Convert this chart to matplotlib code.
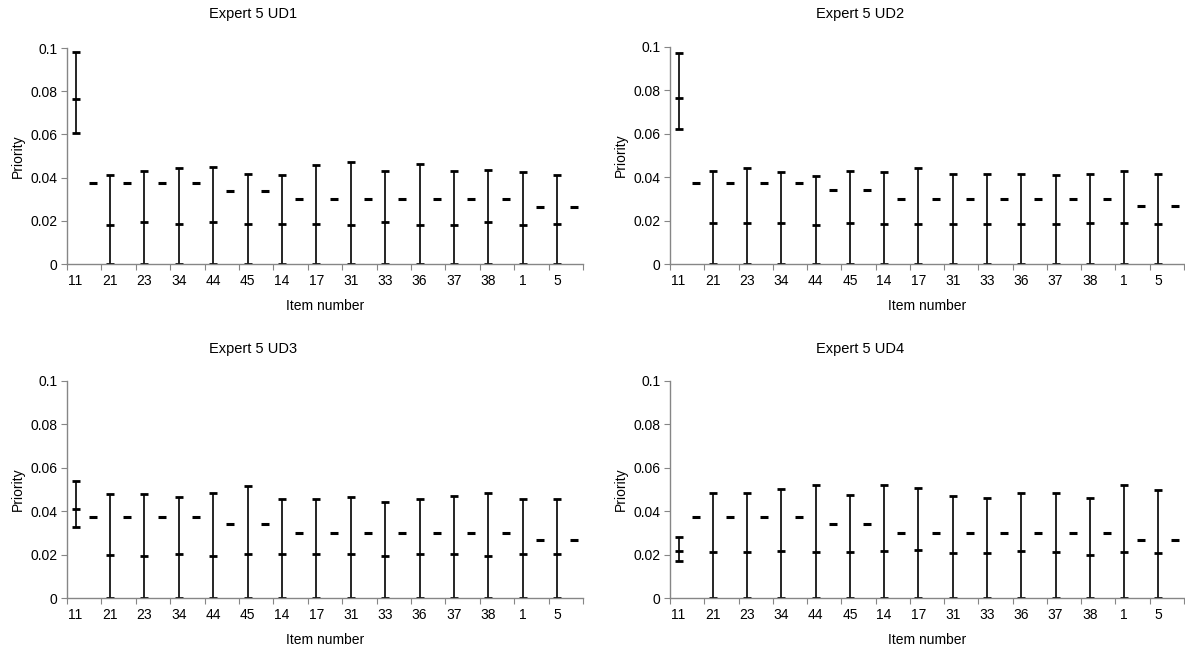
import matplotlib
matplotlib.use("Agg")
import matplotlib.pyplot as plt
import numpy as np

plt.rcParams['font.family'] = ['Liberation Sans', 'DejaVu Sans']

items = ['11', '21', '23', '34', '44', '45', '14', '17', '31', '33', '36', '37', '38', '1', '5']

# reference value drawn as a single dash next to every item
ref_vals = [0.0375, 0.0375, 0.0375, 0.0375, 0.034, 0.034,
            0.030, 0.030, 0.030, 0.030, 0.030, 0.030, 0.030, 0.0265, 0.0265]

# interval per expert / decision (high, mid, low)
ud1_high = [0.0983, 0.0414, 0.0431, 0.0446, 0.0451, 0.0417, 0.0414, 0.0457, 0.0471, 0.0431, 0.0461, 0.0431, 0.0437, 0.0424, 0.0414]
ud1_mid = [0.0762, 0.0181, 0.0193, 0.0187, 0.0193, 0.0187, 0.0187, 0.0187, 0.0181, 0.0193, 0.0181, 0.0181, 0.0193, 0.0181, 0.0187]
ud1_low = [0.0605, 0, 0, 0, 0, 0, 0, 0, 0, 0, 0, 0, 0, 0, 0]

ud2_high = [0.0973, 0.0429, 0.0443, 0.0423, 0.0405, 0.0429, 0.0423, 0.0443, 0.0417, 0.0414, 0.0417, 0.0411, 0.0414, 0.0429, 0.0417]
ud2_mid = [0.0763, 0.0189, 0.0189, 0.0189, 0.0180, 0.0189, 0.0183, 0.0183, 0.0183, 0.0183, 0.0183, 0.0183, 0.0189, 0.0189, 0.0183]
ud2_low = [0.0621, 0, 0, 0, 0, 0, 0, 0, 0, 0, 0, 0, 0, 0, 0]

ud3_high = [0.0539, 0.0477, 0.0481, 0.0464, 0.0486, 0.0515, 0.0458, 0.0458, 0.0464, 0.0444, 0.0454, 0.0471, 0.0486, 0.0454, 0.0458]
ud3_mid = [0.0410, 0.0198, 0.0195, 0.0204, 0.0195, 0.0201, 0.0204, 0.0201, 0.0201, 0.0195, 0.0201, 0.0204, 0.0195, 0.0204, 0.0204]
ud3_low = [0.0325, 0, 0, 0, 0, 0, 0, 0, 0, 0, 0, 0, 0, 0, 0]

ud4_high = [0.0283, 0.0486, 0.0482, 0.0502, 0.0522, 0.0474, 0.0522, 0.0508, 0.0469, 0.0462, 0.0482, 0.0482, 0.0462, 0.0522, 0.0497]
ud4_mid = [0.0217, 0.0211, 0.0211, 0.0217, 0.0211, 0.0211, 0.0217, 0.0220, 0.0206, 0.0206, 0.0217, 0.0211, 0.0200, 0.0211, 0.0206]
ud4_low = [0.0169, 0, 0, 0, 0, 0, 0, 0, 0, 0, 0, 0, 0, 0, 0]

panels = [
    ('Expert 5 UD1', ud1_high, ud1_mid, ud1_low),
    ('Expert 5 UD2', ud2_high, ud2_mid, ud2_low),
    ('Expert 5 UD3', ud3_high, ud3_mid, ud3_low),
    ('Expert 5 UD4', ud4_high, ud4_mid, ud4_low),
]

W, H = 1185, 654
fig = plt.figure(figsize=(W / 100, H / 100), dpi=100)

# plot areas in pixels: left, top, right, bottom
boxes = [(67, 48, 583, 264), (670, 47, 1184, 264),
         (67, 381, 583, 598), (670, 381, 1184, 598)]
title_x = [253, 860, 253, 860]
title_y = [14, 14, 349, 349]

grey = '#868686'
n = len(items)
x_int = np.arange(n) * 2      # category slots for intervals
x_ref = np.arange(n) * 2 + 1  # slots for the dashes

for k, (name, hi, mid, lo) in enumerate(panels):
    l, t, r, b = boxes[k]
    ax = fig.add_axes([l / W, 1 - b / H, (r - l) / W, (b - t) / H])
    hi = np.array(hi)
    mid = np.array(mid)
    lo = np.array(lo)
    ax.errorbar(x_int, mid, yerr=[mid - lo, hi - mid], fmt='none', ecolor='black',
                elinewidth=1.2, capsize=3, capthick=2)
    ax.plot(x_int, mid, linestyle='none', marker='_', ms=6, mew=2, color='black')
    ax.plot(x_ref, ref_vals, linestyle='none', marker='_', ms=6, mew=2.2, color='black')

    ax.set_xlim(-0.5, 2 * n - 0.5)
    ax.set_ylim(0, 0.1)
    ax.set_yticks([0, 0.02, 0.04, 0.06, 0.08, 0.1])
    ax.set_yticklabels(['0', '0.02', '0.04', '0.06', '0.08', '0.1'])
    ax.set_xticks(np.arange(-0.5, 2 * n, 2))
    ax.set_xticklabels([])
    ax.set_xticks(x_int, minor=True)
    ax.set_xticklabels(items, minor=True)
    ax.tick_params(axis='x', which='minor', length=0, pad=7, labelsize=10)
    ax.tick_params(axis='x', which='major', length=4, color=grey, direction='out')
    ax.tick_params(axis='y', length=4, color=grey, direction='out', labelsize=10, pad=3)
    for s in ['top', 'right']:
        ax.spines[s].set_visible(False)
    for s in ['left', 'bottom']:
        ax.spines[s].set_color(grey)
        ax.spines[s].set_linewidth(1.0)
    ax.set_ylabel('Priority', fontsize=10, labelpad=4)
    ax.set_xlabel('Item number', fontsize=10, labelpad=8)

    fig.text(title_x[k] / W, 1 - title_y[k] / H, name, ha='center', va='center', fontsize=10.5)

fig.savefig('out.png', dpi=100)
